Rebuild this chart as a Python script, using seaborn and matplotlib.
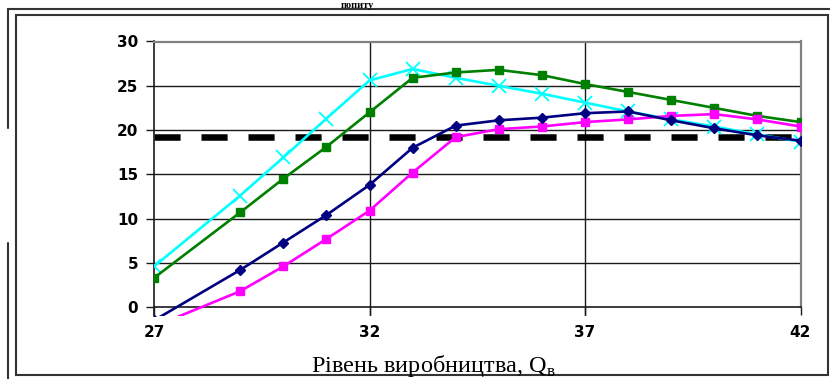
import matplotlib
matplotlib.use("Agg")
import matplotlib.pyplot as plt
import seaborn as sns
import pandas as pd
from matplotlib.lines import Line2D
from matplotlib.patches import Rectangle

# ---- data ----
x_values = [27, 29, 30, 31, 32, 33, 34, 35, 36, 37, 38, 39, 40, 41, 42]
series_cyan = [4.6, 12.6, 16.9, 21.3, 25.6, 26.9, 25.9, 25.0, 24.1, 23.1, 22.1, 21.2, 20.4, 19.5, 18.7]
series_green = [3.3, 10.7, 14.5, 18.1, 22.0, 25.9, 26.5, 26.8, 26.2, 25.2, 24.3, 23.4, 22.5, 21.6, 20.9]
series_pink = [-2.2, 1.8, 4.6, 7.7, 10.9, 15.2, 19.2, 20.1, 20.4, 20.9, 21.2, 21.6, 21.8, 21.2, 20.4]
series_blue = [-1.5, 4.2, 7.3, 10.4, 13.8, 18.0, 20.5, 21.1, 21.4, 21.9, 22.1, 21.1, 20.2, 19.4, 18.8]
threshold_x = [27, 42]
threshold_y = [19.25, 19.25]
x_ticks = [27, 32, 37, 42]
y_ticks = [0, 5, 10, 15, 20, 25, 30]
x_label = "Рівень виробництва, Q"
x_label_sub = "в"
title_fragment = "попиту"

sns.set_theme(style="white")
plt.rcParams["font.family"] = ["DejaVu Sans"]
plt.rcParams["mathtext.fontset"] = "custom"
plt.rcParams["mathtext.rm"] = "Liberation Serif"

W, H = 830, 379
fig = plt.figure(figsize=(W / 100, H / 100), dpi=100)
fig.patch.set_facecolor("white")

def fx(px):
    return px / W

def fy(py):
    return 1 - py / H

ax = fig.add_axes([fx(154), fy(316), fx(800.5) - fx(154), fy(41.5) - fy(316)])
ax.set_facecolor("white")

# dashed threshold line
thr = pd.DataFrame({"x": threshold_x, "y": threshold_y})
sns.lineplot(data=thr, x="x", y="y", ax=ax, color="black", linewidth=4.7,
             dashes=False, zorder=2)
ax.lines[-1].set_dashes((4, 3.2))
ax.lines[-1].set_dash_capstyle("butt")

styles = [
    (series_cyan, "#00FFFF", "x", 10.5, 1.3),
    (series_green, "#008000", "s", 6, 1),
    (series_pink, "#FF00FF", "s", 6, 1),
    (series_blue, "#000080", "D", 4.8, 1),
]
for i, (vals, col, mk, ms, mew) in enumerate(styles):
    df = pd.DataFrame({"x": x_values, "y": vals})
    sns.lineplot(data=df, x="x", y="y", ax=ax, color=col, linewidth=1.9,
                 marker=mk, markersize=ms, markeredgewidth=mew,
                 markeredgecolor=col, markerfacecolor=col, zorder=3 + i)

ax.set_xlim(27, 42)
ax.set_ylim(-1.0, 30)
ax.set_xticks(x_ticks)
ax.set_yticks(y_ticks)
ax.set_xlabel("")
ax.set_ylabel("")

# grid
for v in y_ticks[1:-1]:
    ax.axhline(v, color="#1a1a1a", linewidth=1.0, zorder=1)
for v in x_ticks[1:-1]:
    ax.axvline(v, color="#1a1a1a", linewidth=1.0, zorder=1)

for s in ["top", "right"]:
    ax.spines[s].set_color("#808080")
    ax.spines[s].set_linewidth(1.6)
ax.spines["left"].set_color("#1a1a1a")
ax.spines["left"].set_linewidth(1.2)
ax.spines["bottom"].set_position(("data", 0))
ax.spines["bottom"].set_color("#1a1a1a")
ax.spines["bottom"].set_linewidth(1.2)
ax.spines["right"].set_bounds(0, 30)

ax.tick_params(axis="both", which="major", direction="out", length=6,
               width=1.0, color="#1a1a1a", bottom=True, left=True)
ax.tick_params(axis="y", pad=5.5)
ax.tick_params(axis="x", pad=6.5)
for lab in ax.get_xticklabels() + ax.get_yticklabels():
    lab.set_fontfamily("DejaVu Sans")
    lab.set_fontweight("bold")
    lab.set_fontsize(11)
    lab.set_color("black")

# x label (as figure text, offset like the reference)
fig.text(fx(433), fy(372), x_label + r"$_{\mathrm{" + x_label_sub + "}}$",
         ha="center", va="baseline", fontsize=17.5, family="Liberation Serif",
         color="black")

# title fragment at the very top (kept fully inside the picture)
fig.text(fx(357), fy(0.5), title_fragment, ha="center", va="top",
         fontsize=7.5, family="Liberation Serif", fontweight="bold",
         color="black")

# frames
lc = "#333333"
fig.add_artist(Line2D([fx(8), fx(830)], [fy(8.5), fy(8.5)], color=lc, lw=1.5,
                      transform=fig.transFigure))
fig.add_artist(Line2D([fx(8), fx(8)], [fy(8.5), fy(128)], color=lc, lw=1.5,
                      transform=fig.transFigure))
fig.add_artist(Line2D([fx(8), fx(8)], [fy(243), fy(379)], color=lc, lw=1.5,
                      transform=fig.transFigure))
fig.add_artist(Rectangle((fx(16), fy(375)), fx(828) - fx(16), fy(14.5) - fy(375),
                         fill=False, edgecolor=lc, lw=1.5,
                         transform=fig.transFigure))

fig.savefig("out.png", dpi=100, facecolor="white")
